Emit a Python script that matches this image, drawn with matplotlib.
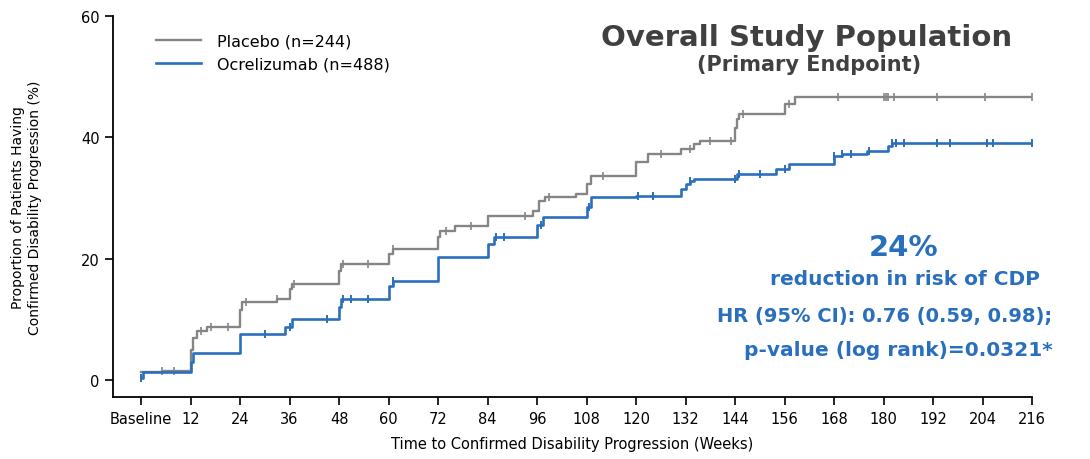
import numpy as np
import matplotlib
matplotlib.use("Agg")
import matplotlib.pyplot as plt

# Kaplan-Meier style step data: week of each step and cumulative % after it
placebo_weeks = [0, 5, 12, 12.5, 13.5, 16, 24, 24.5, 33, 36, 36.5, 48, 48.5, 60, 61,
                 72, 72.5, 76, 84, 95, 96.5, 98, 105.5, 108, 109, 120, 123, 131, 134,
                 135.5, 144, 144.5, 145, 156, 158.5, 216]
placebo_pct = [1.3, 1.5, 5.0, 7.0, 8.0, 8.8, 11.5, 12.8, 13.3, 15.0, 15.8, 18.0, 19.1,
               20.8, 21.6, 23.5, 24.5, 25.4, 27.0, 27.8, 29.5, 30.2, 30.7, 32.3, 33.6,
               35.9, 37.3, 38.1, 38.9, 39.4, 41.5, 43.0, 43.8, 45.5, 46.7, 46.7]
placebo_censor = [5, 8, 14.5, 17, 21, 25.5, 33, 37, 49, 55, 61, 74, 80, 93, 99, 112,
                  126, 133, 138, 143, 146, 157, 169, 180, 180.5, 181, 182.5, 193, 204.5, 216]

ocre_weeks = [0, 0.5, 12, 12.5, 24, 35, 36.5, 48, 48.5, 60, 61, 72, 84, 85.5, 96, 97.5,
              108, 109, 120, 131, 132, 133, 134, 144.5, 154, 157, 168, 170, 176, 181,
              182, 216]
ocre_pct = [0.3, 1.3, 3.0, 4.4, 7.6, 8.7, 10.0, 12.0, 13.3, 15.5, 16.3, 20.3, 22.4, 23.6,
            25.5, 26.9, 28.5, 30.2, 30.4, 31.5, 32.3, 32.8, 33.1, 34.0, 34.8, 35.6, 36.9,
            37.3, 37.8, 38.5, 39.0, 39.0]
ocre_censor = [0, 30, 36, 45, 49, 51, 55, 61, 86, 88, 97, 108.5, 120.5, 124, 133, 144,
               145, 150, 156, 168, 170, 172, 176.5, 182, 183, 185, 193, 196, 205, 206.5, 216]

x_ticks = list(range(0, 217, 12))
x_labels = ["Baseline"] + [str(w) for w in x_ticks[1:]]
y_ticks = [0, 20, 40, 60]

GREY = "#858585"
BLUE = "#2a6fbd"


def step_value(weeks, pct, t):
    i = np.searchsorted(weeks, t, side="right") - 1
    return np.asarray(pct)[np.clip(i, 0, len(pct) - 1)]


fig = plt.figure(figsize=(10.9, 4.6), dpi=100)
ax = fig.add_axes([0.1037, 0.1348, 0.8431, 0.8282])

ax.step(placebo_weeks, placebo_pct, where="post", color=GREY, lw=1.7,
        label="Placebo (n=244)", zorder=2)
ax.plot(placebo_censor, step_value(placebo_weeks, placebo_pct, placebo_censor),
        ls="none", marker="|", ms=6, mew=1.2, color=GREY, zorder=2)
ax.step(ocre_weeks, ocre_pct, where="post", color=BLUE, lw=1.9,
        label="Ocrelizumab (n=488)", zorder=3)
ax.plot(ocre_censor, step_value(ocre_weeks, ocre_pct, ocre_censor),
        ls="none", marker="|", ms=6, mew=1.4, color=BLUE, zorder=3)

ax.set_xlim(-6.8, 216)
ax.set_ylim(-2.8, 60)
ax.set_xticks(x_ticks)
ax.set_xticklabels(x_labels)
ax.set_yticks(y_ticks)
ax.spines["top"].set_visible(False)
ax.spines["right"].set_visible(False)
ax.spines["left"].set_bounds(-2.8, 60)
ax.spines["bottom"].set_bounds(-6.8, 216)
for s in ("left", "bottom"):
    ax.spines[s].set_linewidth(1.3)
ax.tick_params(axis="both", direction="out", length=6, width=1.2, labelsize=10.5,
               colors="black")
ax.tick_params(axis="x", pad=4)

ax.set_xlabel("Time to Confirmed Disability Progression (Weeks)", fontsize=10.5, labelpad=7)
ax.set_ylabel("Proportion of Patients Having\nConfirmed Disability Progression (%)",
              fontsize=10, labelpad=28, linespacing=1.3)

ax.legend(loc="upper left", bbox_to_anchor=(0.047, 0.955), frameon=False, fontsize=11.5,
          handlelength=2.8, handletextpad=1.0, labelspacing=0.55, borderpad=0,
          borderaxespad=0)

ax.text(0.755, 0.945, "Overall Study Population", transform=ax.transAxes, ha="center",
        va="center", fontsize=21, fontweight="bold", color="#404040")
ax.text(0.757, 0.875, "(Primary Endpoint)", transform=ax.transAxes, ha="center",
        va="center", fontsize=15, fontweight="bold", color="#404040")

ax.text(0.86, 0.395, "24%", transform=ax.transAxes, ha="center", va="center",
        fontsize=21, fontweight="bold", color=BLUE)
ax.text(0.862, 0.31, "reduction in risk of CDP", transform=ax.transAxes, ha="center",
        va="center", fontsize=14.5, fontweight="bold", color=BLUE)
ax.text(0.84, 0.215, "HR (95% CI): 0.76 (0.59, 0.98);", transform=ax.transAxes,
        ha="center", va="center", fontsize=14, fontweight="bold", color=BLUE)
ax.text(0.855, 0.125, "p-value (log rank)=0.0321*", transform=ax.transAxes,
        ha="center", va="center", fontsize=14.5, fontweight="bold", color=BLUE)

fig.savefig("out.png", dpi=100)
